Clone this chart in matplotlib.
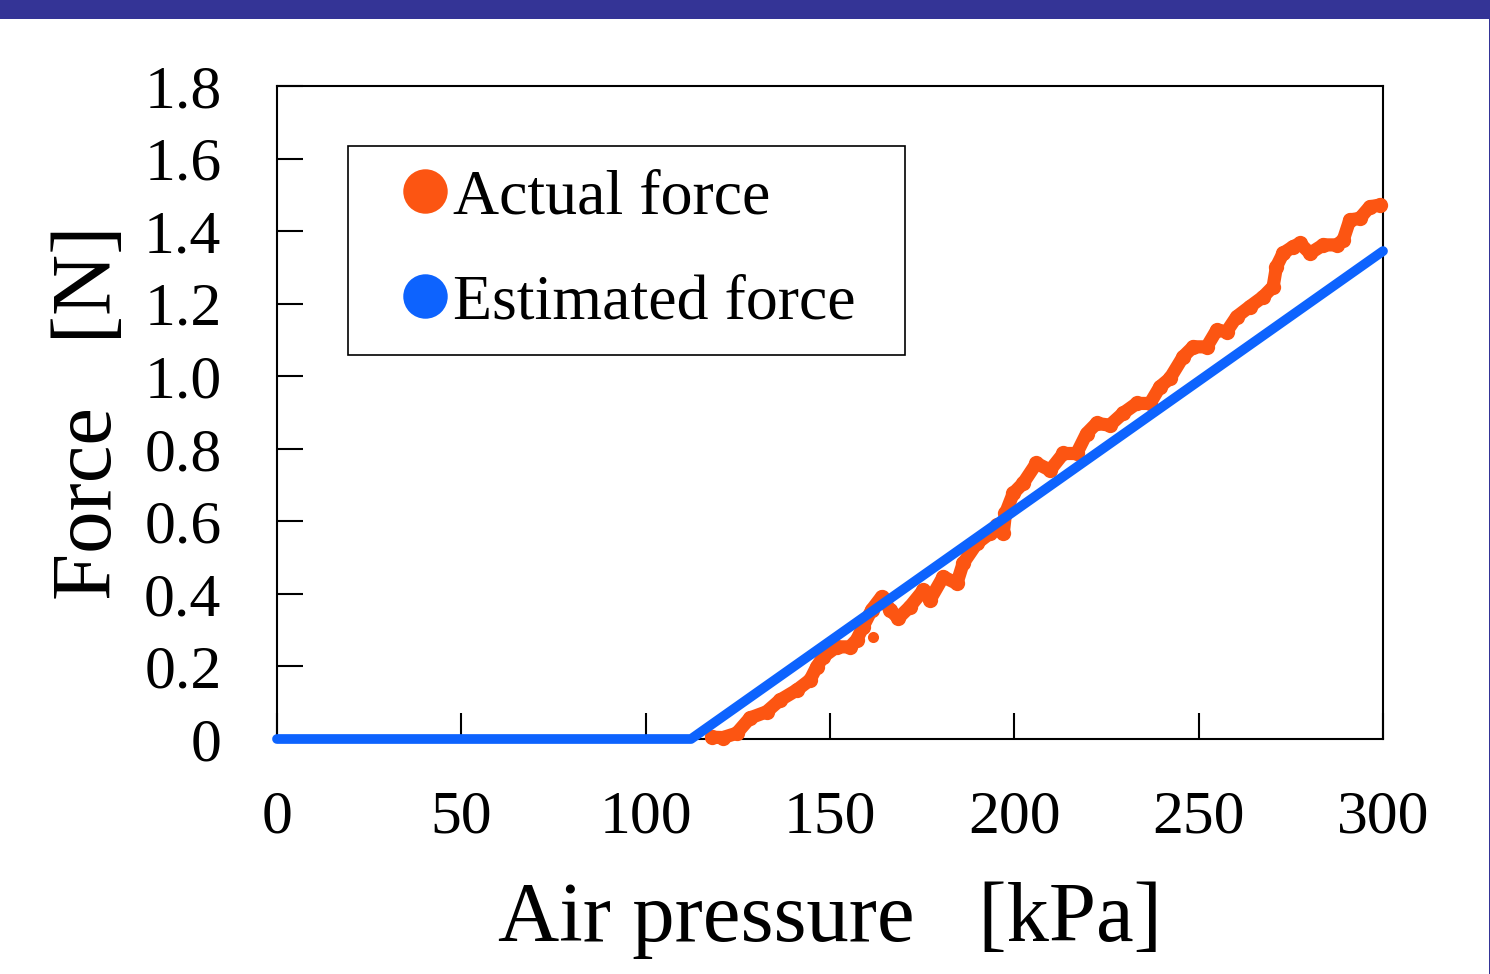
import matplotlib
matplotlib.use("Agg")
import matplotlib.pyplot as plt
from matplotlib.lines import Line2D
from matplotlib.patches import Rectangle

plt.rcParams['font.family'] = ['Liberation Serif', 'DejaVu Serif']

# ---- data ----
# Actual force trace (kPa, N)
actual_p = [117.9, 121.0, 124.7, 128.3, 132.8, 136.4, 141.0, 144.6, 146.4, 148.2,
            151.8, 155.4, 157.2, 159.0, 161.3, 164.0, 166.3, 168.5, 171.7, 175.3,
            177.1, 180.7, 184.4, 186.1, 189.8, 193.4, 195.2, 197.0, 197.6, 199.7,
            202.4, 206.0, 209.7, 213.3, 216.9, 219.6, 222.3, 225.9, 229.5, 233.2,
            236.8, 239.5, 242.2, 245.8, 248.5, 252.2, 254.9, 257.6, 260.3, 263.9,
            267.5, 270.2, 271.1, 272.9, 275.6, 277.5, 280.2, 283.8, 287.4, 289.2,
            291.0, 293.7, 296.4, 299.2]
actual_f = [0.005, 0.004, 0.016, 0.058, 0.075, 0.107, 0.135, 0.163, 0.199, 0.227,
            0.254, 0.254, 0.273, 0.310, 0.356, 0.392, 0.356, 0.333, 0.365, 0.410,
            0.383, 0.447, 0.429, 0.484, 0.539, 0.567, 0.590, 0.567, 0.622, 0.677,
            0.705, 0.760, 0.741, 0.787, 0.787, 0.842, 0.870, 0.865, 0.898, 0.925,
            0.925, 0.971, 0.994, 1.054, 1.081, 1.081, 1.127, 1.123, 1.164, 1.192,
            1.219, 1.247, 1.302, 1.339, 1.357, 1.366, 1.339, 1.362, 1.362, 1.375,
            1.431, 1.435, 1.467, 1.472]
outlier_p = [161.7]
outlier_f = [0.282]

# Estimated force (kPa, N)
est_p = [0, 112.3, 300]
est_f = [0, 0, 1.345]

x_ticks = [0, 50, 100, 150, 200, 250, 300]
y_ticks = [0, 0.2, 0.4, 0.6, 0.8, 1.0, 1.2, 1.4, 1.6, 1.8]
y_tick_labels = ['0', '0.2', '0.4', '0.6', '0.8', '1.0', '1.2', '1.4', '1.6', '1.8']

orange = '#FC5512'
blue = '#0D63FE'
band = '#343496'

# ---- figure ----
fig = plt.figure(figsize=(14.9, 9.74), dpi=100)
W, H = 1490, 974
ax = fig.add_axes([277 / W, 1 - 739 / H, (1383 - 277) / W, (739 - 86) / H])

ax.plot(actual_p, actual_f, color=orange, lw=9.5, solid_capstyle='round',
        solid_joinstyle='round', marker='o', ms=11, mew=0, zorder=3, clip_on=False)
ax.plot(outlier_p, outlier_f, 'o', color=orange, ms=8, mew=0, zorder=3)
ax.plot(est_p, est_f, color=blue, lw=7, solid_capstyle='round', zorder=4,
        clip_on=False)

ax.set_xlim(0, 300)
ax.set_ylim(0, 1.8)
ax.set_xticks(x_ticks)
ax.set_yticks(y_ticks)
ax.set_yticklabels(y_tick_labels)
ax.tick_params(axis='both', direction='in', length=19, width=1.5, colors='black',
               labelsize=44.5)
ax.tick_params(axis='x', pad=37)
ax.tick_params(axis='y', pad=40)
for s in ax.spines.values():
    s.set_linewidth(1.5)
    s.set_color('black')

ax.set_xlabel('Air pressure   [kPa]', fontsize=61)
ax.set_ylabel('Force   [N]', fontsize=61)
ax.xaxis.set_label_coords(0.5, -0.218)
ax.yaxis.set_label_coords(-0.134, 0.5)

handles = [Line2D([], [], marker='o', ls='none', color=orange, ms=32, mew=0),
           Line2D([], [], marker='o', ls='none', color=blue, ms=32, mew=0)]
lx0 = (348 - 277) / 1106
lw_ = (905 - 348) / 1106
ltop = (739 - 146) / 653
leg = ax.legend(handles, ['Actual force', 'Estimated force'], loc='upper left',
                bbox_to_anchor=(lx0, ltop - 0.3, lw_, 0.3), mode='expand',
                borderaxespad=0, fontsize=46, frameon=True, fancybox=False,
                framealpha=1, edgecolor='black', borderpad=0.36, handlelength=1.7,
                handletextpad=-0.42, labelspacing=0.72)
leg.get_frame().set_linewidth(1.2)

# decorative top band and right edge line
fig.patches.append(Rectangle((0, 1 - 19 / H), 1, 19 / H, transform=fig.transFigure,
                             facecolor=band, edgecolor='none', zorder=0))
fig.patches.append(Rectangle((1 - 1.5 / W, 0), 1.5 / W, 1, transform=fig.transFigure,
                             facecolor=band, edgecolor='none', zorder=0))

fig.savefig('out.png', dpi=100, facecolor='white')
